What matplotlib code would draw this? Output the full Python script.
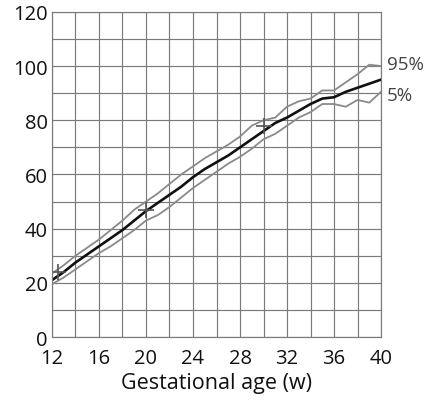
import matplotlib
matplotlib.use("Agg")
import matplotlib.pyplot as plt

weeks = list(range(12, 41))
median = [21, 24, 27.5, 30.5, 33.5, 36.5, 39.5, 43, 46.5, 49.5, 52.5, 55.5, 59, 62, 64.5,
          67, 70, 73, 76, 79, 81, 83.5, 86, 88, 88.5, 90.5, 92, 93.5, 95]
p95 = [23.5, 26.5, 30, 33, 36, 39.5, 43, 47, 50, 53, 56.5, 60, 63, 66, 68.5,
       71, 74, 78, 80, 81, 85, 87, 88, 91, 91, 94, 97, 100.5, 100]
p5 = [19.5, 22, 25, 28, 31, 33.5, 36.5, 39.5, 43, 45, 48, 51.5, 55, 58, 61,
      64, 66.5, 69.5, 73, 75, 78, 81, 83, 86, 86, 85, 87.5, 86.5, 90.5]
mark_x = [12.5, 20, 30]
mark_y = [24, 47, 78]
x_ticks = [12, 16, 20, 24, 28, 32, 36, 40]
y_ticks = [0, 20, 40, 60, 80, 100, 120]
band_labels = ["95%", "5%"]
x_label = "Gestational age (w)"

plt.rcParams['font.family'] = ['Open Sans', 'DejaVu Sans']

fig = plt.figure(figsize=(4.33, 4.02), dpi=100)
ax = fig.add_axes([0.120, 0.159, 0.760, 0.809])

ax.set_xlim(12, 40)
ax.set_ylim(0, 120)
ax.set_yticks(range(0, 121, 10))
ax.grid(True, color='#7a7a7a', linewidth=0.85)
ax.set_axisbelow(True)
for s in ax.spines.values():
    s.set_color('#7a7a7a')
    s.set_linewidth(0.85)

ax.set_xticks(range(12, 41, 2))
ax.set_xticklabels([str(v) if v in x_ticks else '' for v in range(12, 41, 2)], fontsize=14.5)
ax.set_yticklabels([str(v) if v in y_ticks else '' for v in range(0, 121, 10)], fontsize=14.5)
ax.tick_params(length=0, colors='#111111')
ax.tick_params(axis='y', pad=3)
ax.tick_params(axis='x', pad=8)

ax.plot(weeks, p95, color='#8a8a8a', linewidth=1.3)
ax.plot(weeks, p5, color='#8a8a8a', linewidth=1.3)
ax.plot(weeks, median, color='#111111', linewidth=1.9)
ax.plot(mark_x, mark_y, linestyle='none', marker='+', markersize=11,
        markeredgewidth=1.2, color='#555555')

ax.set_xlabel(x_label, fontsize=15.5, labelpad=3, color='#111111')

fig.text(0.893, 0.838, band_labels[0], fontsize=13.5, color='#444444', va='center', ha='left')
fig.text(0.893, 0.762, band_labels[1], fontsize=13.5, color='#444444', va='center', ha='left')

fig.savefig("out.png", dpi=100)
